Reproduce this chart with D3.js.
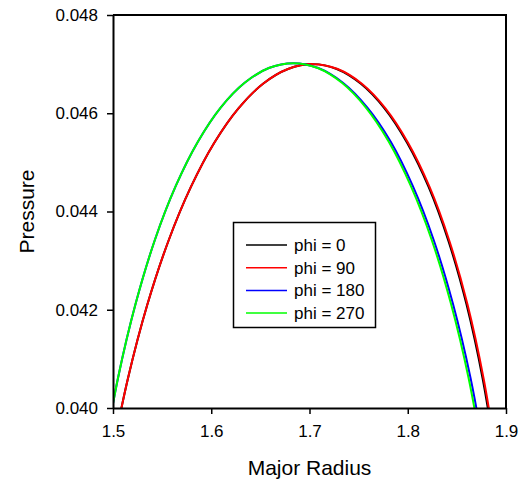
<!DOCTYPE html>
<html>
<head>
<meta charset="utf-8">
<script src="https://cdn.jsdelivr.net/npm/d3@7"></script>
<style>
  body { margin: 0; background: #fff; }
  svg text { font-family: "Liberation Sans", Arial, sans-serif; fill: #000; }
</style>
</head>
<body>
<svg id="chart" width="519" height="487"></svg>
<script>
// values: major radius vs pressure, one list per phi
const seriesNames = ["phi = 0", "phi = 90", "phi = 180", "phi = 270"];
const seriesColors = ["#000000", "#ff0000", "#0000ff", "#00ff00"];

const radius0 = [1.4975, 1.5152, 1.5349, 1.5564, 1.5793, 1.6031, 1.6277, 1.6527, 1.6781, 1.7035, 1.7277, 1.7523, 1.7763, 1.7993, 1.8212, 1.8414, 1.8599, 1.8762, 1.8901];
const pressure0 = [0.0389, 0.0406, 0.0421, 0.0434, 0.0445, 0.0454, 0.0461, 0.0466, 0.0469, 0.0470, 0.0469, 0.0466, 0.0461, 0.0454, 0.0445, 0.0434, 0.0421, 0.0406, 0.0389];

const radius90 = [1.4975, 1.5152, 1.5349, 1.5564, 1.5793, 1.6031, 1.6277, 1.6527, 1.6781, 1.7035, 1.7287, 1.7533, 1.7773, 1.8003, 1.8222, 1.8424, 1.8609, 1.8772, 1.8911];
const pressure90 = [0.0389, 0.0406, 0.0421, 0.0434, 0.0445, 0.0454, 0.0461, 0.0466, 0.0469, 0.0470, 0.0469, 0.0466, 0.0461, 0.0454, 0.0445, 0.0434, 0.0421, 0.0406, 0.0389];

const radius180 = [1.4897, 1.5052, 1.5230, 1.5426, 1.5639, 1.5864, 1.6098, 1.6340, 1.6586, 1.6835, 1.7089, 1.7340, 1.7587, 1.7827, 1.8051, 1.8264, 1.8460, 1.8638, 1.8793];
const pressure180 = [0.03892, 0.04062, 0.04212, 0.04342, 0.04452, 0.04542, 0.04612, 0.04662, 0.04692, 0.04702, 0.04692, 0.04662, 0.04612, 0.04542, 0.04452, 0.04342, 0.04212, 0.04062, 0.03892];

const radius270 = [1.4897, 1.5052, 1.5230, 1.5426, 1.5639, 1.5864, 1.6098, 1.6340, 1.6586, 1.6835, 1.7084, 1.7330, 1.7572, 1.7807, 1.8031, 1.8244, 1.8440, 1.8618, 1.8773];
const pressure270 = [0.03892, 0.04062, 0.04212, 0.04342, 0.04452, 0.04542, 0.04612, 0.04662, 0.04692, 0.04702, 0.04692, 0.04662, 0.04612, 0.04542, 0.04452, 0.04342, 0.04212, 0.04062, 0.03892];

const xTicks = [1.5, 1.6, 1.7, 1.8, 1.9];
const yTicks = [0.040, 0.042, 0.044, 0.046, 0.048];

const series = [
  {name: seriesNames[0], color: seriesColors[0], r: radius0, p: pressure0},
  {name: seriesNames[1], color: seriesColors[1], r: radius90, p: pressure90},
  {name: seriesNames[2], color: seriesColors[2], r: radius180, p: pressure180},
  {name: seriesNames[3], color: seriesColors[3], r: radius270, p: pressure270}
];

const svg = d3.select("#chart");
const margin = {left: 113, right: 13, top: 15, bottom: 79};
const width = 519, height = 487;

const x = d3.scaleLinear().domain([1.5, 1.9]).range([margin.left, width - margin.right]);
const y = d3.scaleLinear().domain([0.040, 0.048]).range([height - margin.bottom, margin.top]);

svg.append("defs").append("clipPath").attr("id", "plot-clip")
  .append("rect")
  .attr("x", margin.left).attr("y", margin.top)
  .attr("width", x.range()[1] - margin.left)
  .attr("height", y.range()[0] - margin.top);

// curves
const line = d3.line()
  .x(d => x(d[0]))
  .y(d => y(d[1]))
  .curve(d3.curveCatmullRom.alpha(0.5));

svg.append("g")
  .attr("clip-path", "url(#plot-clip)")
  .selectAll("path")
  .data(series)
  .join("path")
  .attr("fill", "none")
  .attr("stroke", d => d.color)
  .attr("stroke-width", 2)
  .attr("d", d => line(d.r.map((r, i) => [r, d.p[i]])));

// frame (top + right)
svg.append("path")
  .attr("fill", "none")
  .attr("stroke", "#000")
  .attr("stroke-width", 2)
  .attr("d", `M${x.range()[0]},${y.range()[1]}H${x.range()[1]}V${y.range()[0]}`);

// axes
const xAxis = svg.append("g")
  .attr("transform", `translate(0,${y.range()[0]})`)
  .call(d3.axisBottom(x).tickValues(xTicks).tickFormat(d3.format(".1f")).tickSizeInner(6).tickSizeOuter(0).tickPadding(11));
const yAxis = svg.append("g")
  .attr("transform", `translate(${x.range()[0]},0)`)
  .call(d3.axisLeft(y).tickValues(yTicks).tickFormat(d3.format(".3f")).tickSizeInner(6).tickSizeOuter(0).tickPadding(9));

[xAxis, yAxis].forEach(g => {
  g.select(".domain").attr("stroke", "#000").attr("stroke-width", 2);
  g.selectAll(".tick line").attr("stroke", "#000").attr("stroke-width", 1.5);
  g.selectAll(".tick text").attr("font-size", 17).attr("fill", "#000")
    .style("font-family", "'Liberation Sans', Arial, sans-serif");
});

// axis titles
svg.append("text")
  .attr("x", (x.range()[0] + x.range()[1]) / 2)
  .attr("y", 475)
  .attr("text-anchor", "middle")
  .attr("font-size", 21)
  .text("Major Radius");

svg.append("text")
  .attr("transform", `translate(34,${(y.range()[0] + y.range()[1]) / 2}) rotate(-90)`)
  .attr("text-anchor", "middle")
  .attr("font-size", 21)
  .text("Pressure");

// legend
const legend = svg.append("g");
legend.append("rect")
  .attr("x", 233.5).attr("y", 222.5)
  .attr("width", 142).attr("height", 105)
  .attr("fill", "#fff").attr("stroke", "#000").attr("stroke-width", 1.5);

const rows = legend.selectAll("g.row")
  .data(series)
  .join("g")
  .attr("class", "row")
  .attr("transform", (d, i) => `translate(0,${245 + i * 22.7})`);

rows.append("line")
  .attr("x1", 246).attr("x2", 287)
  .attr("stroke", d => d.color).attr("stroke-width", 1.5);

rows.append("text")
  .attr("x", 294)
  .attr("dy", "0.35em")
  .attr("font-size", 17)
  .text(d => d.name);
</script>
</body>
</html>
